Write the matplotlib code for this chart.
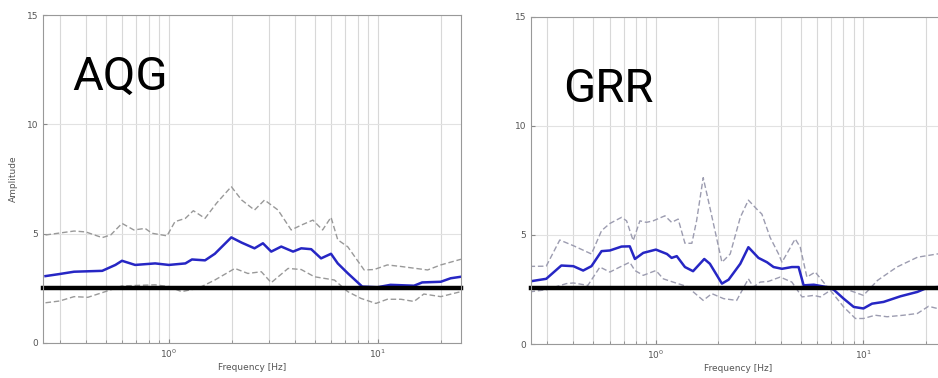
import numpy as np
import matplotlib
matplotlib.use("Agg")
import matplotlib.pyplot as plt
from matplotlib.ticker import LogLocator, NullFormatter

# ---------------- data ----------------
site_labels = ["AQG", "GRR"]
thresholds = [2.5, 2.55]

aqg_mean_f = [0.257, 0.298, 0.352, 0.48, 0.555, 0.597, 0.69, 0.86, 1.0, 1.2, 1.29, 1.49, 1.66, 1.99,
              2.23, 2.57, 2.82, 3.09, 3.45, 3.93, 4.30, 4.80, 5.35, 5.97, 6.43, 7.18, 8.42, 9.96,
              11.5, 14.9, 16.3, 20.0, 22.3, 25.0]
aqg_mean_a = [3.06, 3.15, 3.26, 3.30, 3.57, 3.76, 3.57, 3.64, 3.57, 3.64, 3.82, 3.78, 4.08, 4.83,
              4.59, 4.33, 4.56, 4.18, 4.41, 4.18, 4.33, 4.29, 3.87, 4.08, 3.64, 3.19, 2.58, 2.55,
              2.66, 2.62, 2.77, 2.80, 2.96, 3.03]

aqg_up_f = [0.257, 0.352, 0.40, 0.48, 0.527, 0.597, 0.68, 0.77, 0.83, 0.98, 1.07, 1.2, 1.31, 1.49,
            1.69, 1.99, 2.23, 2.57, 2.87, 3.33, 3.85, 4.30, 4.89, 5.44, 5.97, 6.43, 7.18, 8.6,
            9.6, 11.1, 12.9, 17.3, 20.0, 25.0]
aqg_up_a = [4.94, 5.12, 5.08, 4.82, 4.94, 5.47, 5.17, 5.24, 5.02, 4.90, 5.55, 5.70, 6.05, 5.70,
            6.39, 7.15, 6.54, 6.08, 6.54, 6.08, 5.17, 5.39, 5.62, 5.17, 5.75, 4.72, 4.40, 3.34,
            3.36, 3.57, 3.50, 3.34, 3.57, 3.83]

aqg_lo_f = [0.257, 0.30, 0.352, 0.41, 0.497, 0.597, 0.86, 1.0, 1.15, 1.38, 1.66, 2.07, 2.39, 2.77,
            3.09, 3.72, 4.3, 4.97, 6.2, 7.18, 8.3, 9.79, 11.1, 12.9, 14.9, 16.6, 20.0, 25.0]
aqg_lo_a = [1.84, 1.92, 2.12, 2.09, 2.35, 2.61, 2.66, 2.58, 2.35, 2.50, 2.88, 3.41, 3.18, 3.26,
            2.76, 3.41, 3.36, 3.03, 2.88, 2.35, 2.04, 1.81, 2.00, 2.00, 1.90, 2.24, 2.12, 2.35]

grr_mean_f = [0.246, 0.296, 0.35, 0.40, 0.446, 0.489, 0.547, 0.6, 0.683, 0.748, 0.792, 0.869, 1.0,
              1.13, 1.19, 1.26, 1.38, 1.51, 1.71, 1.82, 2.08, 2.24, 2.55, 2.79, 3.12, 3.43, 3.69,
              4.05, 4.52, 4.87, 5.15, 5.76, 6.67, 7.19, 8.03, 8.98, 10.0, 11.0, 12.5, 15.1, 18.2,
              20.3, 22.7, 25.0]
grr_mean_a = [2.87, 2.99, 3.60, 3.57, 3.37, 3.57, 4.26, 4.29, 4.47, 4.48, 3.90, 4.18, 4.33,
              4.13, 3.95, 4.03, 3.53, 3.34, 3.90, 3.68, 2.77, 2.95, 3.68, 4.44, 3.95, 3.75, 3.53,
              3.45, 3.53, 3.53, 2.69, 2.72, 2.61, 2.49, 2.08, 1.70, 1.63, 1.85, 1.93, 2.19, 2.39,
              2.58, 2.61, 2.62]

grr_up_f = [0.246, 0.296, 0.344, 0.40, 0.489, 0.547, 0.6, 0.683, 0.722, 0.777, 0.837, 0.9, 0.97,
            1.105, 1.19, 1.28, 1.38, 1.49, 1.57, 1.69, 1.82, 2.08, 2.28, 2.55, 2.79, 3.06, 3.24,
            3.55, 3.9, 4.05, 4.69, 4.96, 5.34, 5.86, 6.67, 7.74, 10.0, 11.7, 14.5, 18.2, 22.7, 25.0]
grr_up_a = [3.56, 3.57, 4.77, 4.51, 4.13, 5.20, 5.53, 5.81, 5.65, 4.74, 5.65, 5.58, 5.65,
            5.88, 5.58, 5.73, 4.62, 4.62, 5.65, 7.63, 6.26, 3.75, 4.13, 5.81, 6.60, 6.19, 5.96,
            4.89, 4.13, 3.75, 4.82, 4.44, 3.07, 3.30, 2.64, 2.61, 2.23, 2.92, 3.53, 3.98, 4.13, 4.15]

grr_lo_f = [0.246, 0.296, 0.37, 0.40, 0.47, 0.537, 0.60, 0.67, 0.748, 0.792, 0.869, 1.0, 1.085,
            1.21, 1.41, 1.69, 1.86, 2.12, 2.45, 2.79, 2.95, 3.18, 3.48, 3.97, 4.52, 5.06, 5.76,
            6.2, 6.93, 8.03, 9.15, 10.0, 11.4, 13.0, 15.6, 18.2, 20.6, 22.7, 25.0]
grr_lo_a = [2.39, 2.49, 2.77, 2.80, 2.69, 3.53, 3.30, 3.53, 3.75, 3.37, 3.15, 3.37, 2.99,
            2.84, 2.64, 2.00, 2.31, 2.08, 2.00, 2.99, 2.61, 2.84, 2.87, 3.07, 2.84, 2.16, 2.23,
            2.16, 2.46, 1.70, 1.17, 1.17, 1.32, 1.25, 1.32, 1.40, 1.73, 1.63, 1.62]

y_ticks = [0, 5, 10, 15]

# ---------------- figure ----------------
fig = plt.figure(figsize=(9.38, 3.78), dpi=100)
positions = [[43/938, 1-343/378, 418/938, 328/378],
             [531/938, 1-344/378, 415/938, 327/378]]
panels = [
    (aqg_mean_f, aqg_mean_a, aqg_up_f, aqg_up_a, aqg_lo_f, aqg_lo_a, "#999999"),
    (grr_mean_f, grr_mean_a, grr_up_f, grr_up_a, grr_lo_f, grr_lo_a, "#9c9cb0"),
]
# label anchor (left, baseline) in figure pixels
label_px = [(72, 90), (563, 102)]

for i, (mf, ma, uf, ua, lf, la, dcol) in enumerate(panels):
    ax = fig.add_axes(positions[i])
    ax.set_xscale("log")
    ax.set_xlim(0.25, 25)
    ax.set_ylim(0, 15)
    ax.set_yticks(y_ticks)
    ax.xaxis.set_major_locator(LogLocator(base=10))
    ax.xaxis.set_minor_locator(LogLocator(base=10, subs=np.arange(2, 10)))
    ax.xaxis.set_minor_formatter(NullFormatter())
    ax.grid(True, which="both", axis="x", color="#d8d8d8", lw=0.8)
    ax.grid(True, which="major", axis="y", color="#e2e2e2", lw=0.8)
    ax.tick_params(which="both", direction="in", colors="#888888", labelcolor="#555555",
                   labelsize=6.5, length=3)
    ax.tick_params(which="minor", length=2)
    for s in ax.spines.values():
        s.set_color("#999999")
        s.set_linewidth(0.8)
    ax.plot(uf, ua, ls=(0, (4, 2)), color=dcol, lw=1.0)
    ax.plot(lf, la, ls=(0, (4, 2)), color=dcol, lw=1.0)
    ax.plot(mf, ma, color="#2626c4", lw=1.8)
    ax.axhline(thresholds[i], color="black", lw=3.2, clip_on=False)
    ax.set_xlabel("Frequency [Hz]", fontsize=6.5, color="#555555", labelpad=2)
    if i == 0:
        ax.set_ylabel("Amplitude", fontsize=6.5, color="#555555", labelpad=6)
    fig.text(label_px[i][0] / 938, 1 - label_px[i][1] / 378, site_labels[i],
             fontsize=34, family="Roboto", color="black", ha="left", va="baseline")

fig.savefig("out.png", dpi=100)
